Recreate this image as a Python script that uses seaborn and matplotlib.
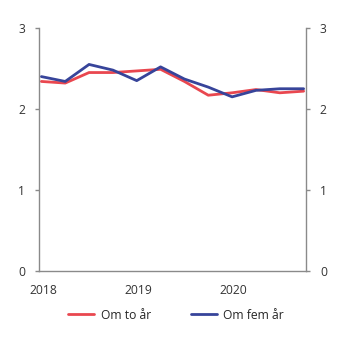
import matplotlib
matplotlib.use("Agg")
import matplotlib.pyplot as plt
import seaborn as sns
import pandas as pd

quarters = ["2018K1", "2018K2", "2018K3", "2018K4", "2019K1", "2019K2", "2019K3", "2019K4",
            "2020K1", "2020K2", "2020K3", "2020K4"]
om_to_ar = [2.34, 2.32, 2.45, 2.45, 2.47, 2.49, 2.34, 2.17, 2.20, 2.24, 2.20, 2.22]
om_fem_ar = [2.40, 2.34, 2.55, 2.48, 2.35, 2.52, 2.37, 2.27, 2.15, 2.23, 2.25, 2.25]
year_labels = ["2018", "2019", "2020"]
series_names = ["Om to år", "Om fem år"]
colors = ["#e9474f", "#37449a"]

sns.set_theme(style="white")
plt.rcParams['font.family'] = ['Open Sans', 'DejaVu Sans']

rows = []
for i, q in enumerate(quarters):
    rows.append({"x": i, "verdi": om_to_ar[i], "serie": series_names[0]})
    rows.append({"x": i, "verdi": om_fem_ar[i], "serie": series_names[1]})
df = pd.DataFrame(rows)

fig = plt.figure(figsize=(3.45, 3.41), dpi=100)
ax = fig.add_axes([0.113, 0.205, 0.774, 0.713])
sns.lineplot(data=df, x="x", y="verdi", hue="serie", palette=colors, linewidth=2, ax=ax, legend=True)

ax.set_xlim(-0.1, 11.1)
ax.set_ylim(0, 3)
ax.set_yticks([0, 1, 2, 3])
ax.set_xticks([0.1, 4.05, 8.05])
ax.set_xticklabels(year_labels)
ax.set_xlabel("")
ax.set_ylabel("")

grey = "#8a8a8a"
for s in ["left", "right", "bottom"]:
    ax.spines[s].set_visible(True)
    ax.spines[s].set_color(grey)
    ax.spines[s].set_linewidth(1)
ax.spines["top"].set_visible(False)

fs = 8.7
ax.yaxis.set_ticks_position("both")
ax.tick_params(axis="y", which="both", left=True, right=True, labelleft=True, labelright=True,
               direction="out", length=3, width=1, color=grey, labelsize=fs, labelcolor="#333333", pad=7)
ax.tick_params(axis="x", bottom=False, labelsize=fs, labelcolor="#333333", pad=3)

handles, labels = ax.get_legend_handles_labels()
ax.legend(handles, labels, loc="upper center", bbox_to_anchor=(0.513, -0.11), ncol=2,
          frameon=False, fontsize=fs, handlelength=2.2, columnspacing=3.3, handletextpad=0.5)

fig.savefig("out.png", dpi=100)
